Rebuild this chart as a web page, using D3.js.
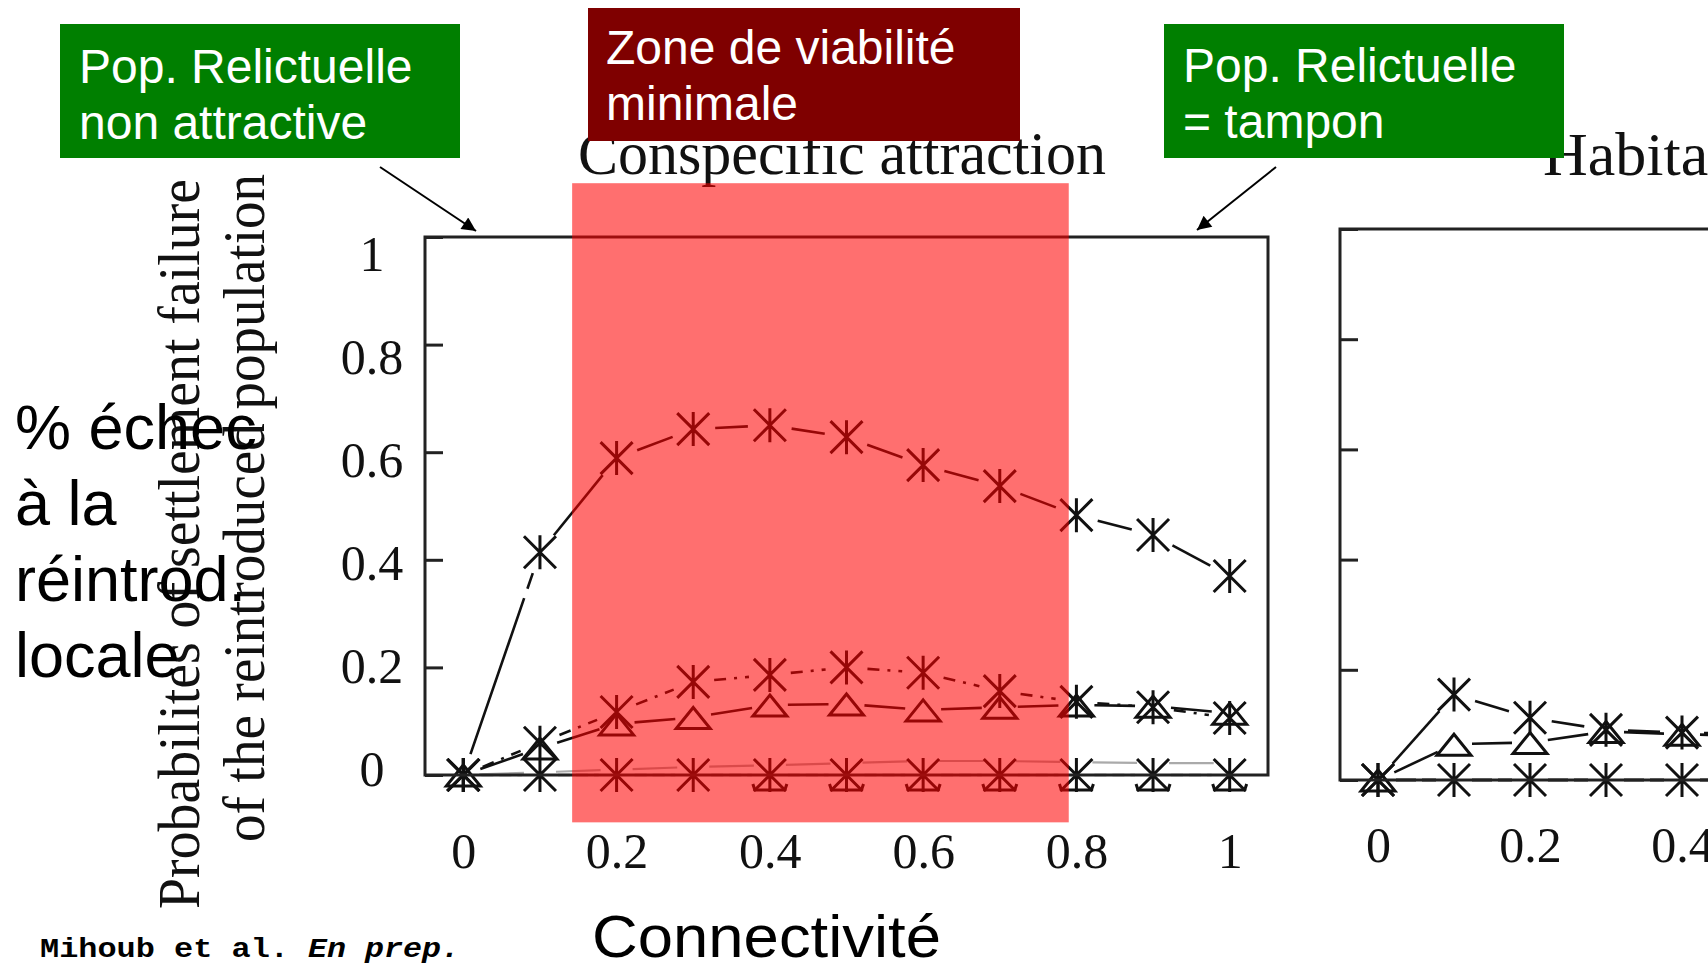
<!DOCTYPE html>
<html>
<head>
<meta charset="utf-8">
<script src="https://cdn.jsdelivr.net/npm/d3@7"></script>
<style>
  body { margin: 0; background: #fff; }
  svg { display: block; }
</style>
</head>
<body>
<svg id="chart" width="1708" height="966"></svg>
<script>
// connectivity values (x) and probabilities of failure
var connect = [0, 0.1, 0.2, 0.3, 0.4, 0.5, 0.6, 0.7, 0.8, 0.9, 1];
var yTicks = [0, 0.2, 0.4, 0.6, 0.8, 1];
var xTicks = [0, 0.2, 0.4, 0.6, 0.8, 1];

// "Conspecific attraction" panel
var conspLong  = [0, 0.414, 0.589, 0.643, 0.65, 0.628, 0.576, 0.537, 0.483, 0.446, 0.37];
var conspDot   = [0, 0.06, 0.117, 0.173, 0.186, 0.2, 0.19, 0.156, 0.136, 0.126, 0.106];
var conspTri   = [0, 0.05, 0.095, 0.107, 0.13, 0.132, 0.121, 0.126, 0.13, 0.128, 0.115];
var conspZero  = [0, 0, 0, 0, 0, 0, 0, 0, 0, 0, 0];
var conspGrey  = [0, 0.005, 0.01, 0.015, 0.018, 0.022, 0.026, 0.026, 0.024, 0.022, 0.022];
// triangles hidden under the bottom asterisks, only their base shows
var baseX      = [0.4, 0.5, 0.6, 0.7, 0.8, 0.9, 1];
var baseVal    = [0, 0, 0, 0, 0, 0, 0];

// "Habitat ..." panel (cut by the right edge)
var habX     = [0, 0.1, 0.2, 0.3, 0.4, 0.5];
var habLong  = [0, 0.155, 0.113, 0.091, 0.086, 0.084];
var habTri   = [0, 0.065, 0.068, 0.088, 0.083, 0.08];
var habZero  = [0, 0, 0, 0, 0, 0];

// zone de viabilite minimale, in data units of the left panel
var zoneX = [0.142, 0.79];
var zoneY = [-0.088, 1.1];

var svg = d3.select("#chart");
var serif = "'Liberation Serif', 'Times New Roman', serif";
var sans = "'Liberation Sans', Arial, sans-serif";

var x1 = d3.scaleLinear().domain([-0.05, 1.05]).range([425, 1268]);
var y1 = d3.scaleLinear().domain([0, 1]).range([775, 237]);
var x2 = d3.scaleLinear().domain([-0.05, 1.05]).range([1340, 2176]);
var y2 = d3.scaleLinear().domain([0, 1]).range([780, 229]);

var asterisk = "M0,-17V17M-16,-16L16,16M16,-16L-16,16";
var triangle = "M0,-10L17,11L-17,11Z";
var bracket = "M-17,9L-15,15H15L17,9";

// segments between points, cut back so they stop short of the markers
function segments(xs, ys, x, y, gap) {
  var out = [];
  for (var i = 0; i < xs.length - 1; i++) {
    var ax = x(xs[i]), ay = y(ys[i]), bx = x(xs[i + 1]), by = y(ys[i + 1]);
    var len = Math.hypot(bx - ax, by - ay);
    if (len <= 2 * gap) continue;
    var ux = (bx - ax) / len, uy = (by - ay) / len;
    out.push([ax + ux * gap, ay + uy * gap, bx - ux * gap, by - uy * gap]);
  }
  return out;
}

function drawSeries(g, xs, ys, x, y, opt) {
  if (!opt.noLine) {
    g.append("g").selectAll("line")
      .data(segments(xs, ys, x, y, opt.gap || 18))
      .enter().append("line")
      .attr("x1", function (d) { return d[0]; })
      .attr("y1", function (d) { return d[1]; })
      .attr("x2", function (d) { return d[2]; })
      .attr("y2", function (d) { return d[3]; })
      .attr("stroke", opt.color || "#111")
      .attr("stroke-width", opt.width || 2.6)
      .style("stroke-dasharray", opt.dash || null);
  }
  if (opt.marker) {
    g.append("g").selectAll("path")
      .data(xs)
      .enter().append("path")
      .attr("d", opt.marker)
      .attr("transform", function (d, i) { return "translate(" + x(d) + "," + y(ys[i]) + ")"; })
      .attr("fill", "none")
      .attr("stroke", opt.markerColor || "#111")
      .attr("stroke-width", 3);
  }
}

// ---------- left panel ----------
var left = svg.append("g");

drawSeries(left, connect, conspGrey, x1, y1, { color: "#aaa", width: 2.2, gap: 16 });
drawSeries(left, connect, conspZero, x1, y1, { color: "#999", width: 2.4, dash: "12,6" });
drawSeries(left, baseX, baseVal, x1, y1, { noLine: true, marker: bracket });
drawSeries(left, connect, conspZero, x1, y1, { color: "#555", width: 2, dash: "6,10", marker: asterisk });
drawSeries(left, connect, conspTri, x1, y1, { marker: triangle });
drawSeries(left, connect, conspDot, x1, y1, { dash: "12,8,3,8", marker: asterisk, gap: 21 });
drawSeries(left, connect, conspLong, x1, y1, { dash: "165,10", marker: asterisk, gap: 22 });

left.append("rect")
  .attr("x", x1(-0.05)).attr("y", y1(1))
  .attr("width", x1(1.05) - x1(-0.05)).attr("height", y1(0) - y1(1))
  .attr("fill", "none").attr("stroke", "#222").attr("stroke-width", 3);

left.append("g")
  .attr("transform", "translate(" + x1(-0.05) + ",0)")
  .call(d3.axisLeft(y1).tickValues(yTicks).tickSize(-18).tickFormat(""))
  .call(function (g) { g.select(".domain").remove(); })
  .selectAll("line").attr("stroke", "#222").attr("stroke-width", 3);

// tick labels sit on a slightly tighter scale than the ticks in the source image
var yLab = d3.scaleLinear().domain([0, 1]).range([768, 253]);
left.append("g")
  .attr("transform", "translate(372,0)")
  .call(d3.axisLeft(yLab).tickValues(yTicks).tickSize(0).tickFormat(d3.format("~g")))
  .call(function (g) { g.select(".domain").remove(); })
  .selectAll("text")
  .attr("x", 0).attr("dy", "0.35em")
  .attr("text-anchor", "middle")
  .style("font-family", serif).style("font-size", "50px").attr("fill", "#111");

left.append("g")
  .attr("transform", "translate(0,868)")
  .call(d3.axisBottom(x1).tickValues(xTicks).tickSize(0).tickFormat(d3.format("~g")))
  .call(function (g) { g.select(".domain").remove(); })
  .selectAll("text")
  .attr("y", 0).attr("dy", 0)
  .style("font-family", serif).style("font-size", "50px").attr("fill", "#111");

// ---------- right panel ----------
var right = svg.append("g");

drawSeries(right, habX, habZero, x2, y2, { color: "#222", width: 3, dash: "20,6" });
drawSeries(right, habX, habZero, x2, y2, { color: "#555", width: 2, noLine: true, marker: asterisk });
drawSeries(right, habX, habTri, x2, y2, { marker: triangle });
drawSeries(right, habX, habLong, x2, y2, { dash: "165,10", marker: asterisk, gap: 22 });

right.append("rect")
  .attr("x", x2(-0.05)).attr("y", y2(1))
  .attr("width", x2(1.05) - x2(-0.05)).attr("height", y2(0) - y2(1))
  .attr("fill", "none").attr("stroke", "#222").attr("stroke-width", 3);

right.append("g")
  .attr("transform", "translate(" + x2(-0.05) + ",0)")
  .call(d3.axisLeft(y2).tickValues(yTicks).tickSize(-18).tickFormat(""))
  .call(function (g) { g.select(".domain").remove(); })
  .selectAll("line").attr("stroke", "#222").attr("stroke-width", 3);

right.append("g")
  .attr("transform", "translate(0,862)")
  .call(d3.axisBottom(x2).tickValues(xTicks).tickSize(0).tickFormat(d3.format("~g")))
  .call(function (g) { g.select(".domain").remove(); })
  .selectAll("text")
  .attr("y", 0).attr("dy", 0)
  .style("font-family", serif).style("font-size", "50px").attr("fill", "#111");

// ---------- titles and axis labels ----------
svg.append("text")
  .attr("x", 578).attr("y", 174)
  .attr("textLength", 528).attr("lengthAdjust", "spacingAndGlyphs")
  .style("font-family", serif).style("font-size", "62px").attr("fill", "#111")
  .text("Conspecific attraction");

svg.append("text")
  .attr("x", 1543).attr("y", 175)
  .style("font-family", serif).style("font-size", "62px").attr("fill", "#111")
  .text("Habitat");

svg.append("text")
  .attr("transform", "translate(199,544) rotate(-90)")
  .attr("text-anchor", "middle")
  .attr("textLength", 730).attr("lengthAdjust", "spacingAndGlyphs")
  .style("font-family", serif).style("font-size", "60px").attr("fill", "#111")
  .text("Probabilites of settlement failure");

svg.append("text")
  .attr("transform", "translate(264,508) rotate(-90)")
  .attr("text-anchor", "middle")
  .attr("textLength", 668).attr("lengthAdjust", "spacingAndGlyphs")
  .style("font-family", serif).style("font-size", "60px").attr("fill", "#111")
  .text("of the reintroduced population");

// red overlay on top of the curves
svg.append("rect")
  .attr("x", x1(zoneX[0])).attr("y", y1(zoneY[1]))
  .attr("width", x1(zoneX[1]) - x1(zoneX[0]))
  .attr("height", y1(zoneY[0]) - y1(zoneY[1]))
  .attr("fill", "#ff0000").attr("fill-opacity", 0.565);

// French annotations
var echec = ["% échec", "à la", "réintrod.", "locale"];
svg.append("g").selectAll("text")
  .data(echec)
  .enter().append("text")
  .attr("x", 15)
  .attr("y", function (d, i) { return 449 + i * 76; })
  .style("font-family", sans).style("font-size", "63px").attr("fill", "#000")
  .text(function (d) { return d; });

svg.append("text")
  .attr("x", 592).attr("y", 957)
  .attr("textLength", 349).attr("lengthAdjust", "spacingAndGlyphs")
  .style("font-family", sans).style("font-size", "60px").attr("fill", "#000")
  .text("Connectivité");

var mono = "'Liberation Mono', 'Courier New', monospace";
svg.append("text")
  .attr("x", 40).attr("y", 957)
  .attr("textLength", 249).attr("lengthAdjust", "spacingAndGlyphs")
  .style("font-family", mono).style("font-size", "28px").style("font-weight", "bold")
  .text("Mihoub et al.");
svg.append("text")
  .attr("x", 308).attr("y", 957)
  .attr("textLength", 152).attr("lengthAdjust", "spacingAndGlyphs")
  .style("font-family", mono).style("font-size", "28px").style("font-weight", "bold")
  .style("font-style", "italic")
  .text("En prep.");

// boxes
var boxes = [
  { x: 60, y: 24, w: 400, h: 134, fill: "#007f00", lines: ["Pop. Relictuelle", "non attractive"], tx: 79, ty: 83 },
  { x: 588, y: 8, w: 432, h: 133, fill: "#7f0000", lines: ["Zone de viabilité", "minimale"], tx: 606, ty: 64 },
  { x: 1164, y: 24, w: 400, h: 134, fill: "#007f00", lines: ["Pop. Relictuelle", "= tampon"], tx: 1183, ty: 82 }
];
var bx = svg.append("g").selectAll("g").data(boxes).enter().append("g");
bx.append("rect")
  .attr("x", function (d) { return d.x; }).attr("y", function (d) { return d.y; })
  .attr("width", function (d) { return d.w; }).attr("height", function (d) { return d.h; })
  .attr("fill", function (d) { return d.fill; });
bx.each(function (d) {
  d3.select(this).selectAll("text").data(d.lines).enter().append("text")
    .attr("x", d.tx)
    .attr("y", function (t, i) { return d.ty + i * 56; })
    .style("font-family", sans).style("font-size", "48px").attr("fill", "#fff")
    .text(function (t) { return t; });
});

// arrows
svg.append("defs").append("marker")
  .attr("id", "head").attr("viewBox", "0 0 10 10")
  .attr("refX", 10).attr("refY", 5)
  .attr("markerWidth", 16).attr("markerHeight", 14)
  .attr("markerUnits", "userSpaceOnUse")
  .attr("orient", "auto")
  .append("path").attr("d", "M0,0L10,5L0,10Z").attr("fill", "#000");

var arrows = [[380, 167, 476, 231], [1276, 167, 1197, 230]];
svg.append("g").selectAll("line").data(arrows).enter().append("line")
  .attr("x1", function (d) { return d[0]; }).attr("y1", function (d) { return d[1]; })
  .attr("x2", function (d) { return d[2]; }).attr("y2", function (d) { return d[3]; })
  .attr("stroke", "#000").attr("stroke-width", 2)
  .attr("marker-end", "url(#head)");
</script>
</body>
</html>
